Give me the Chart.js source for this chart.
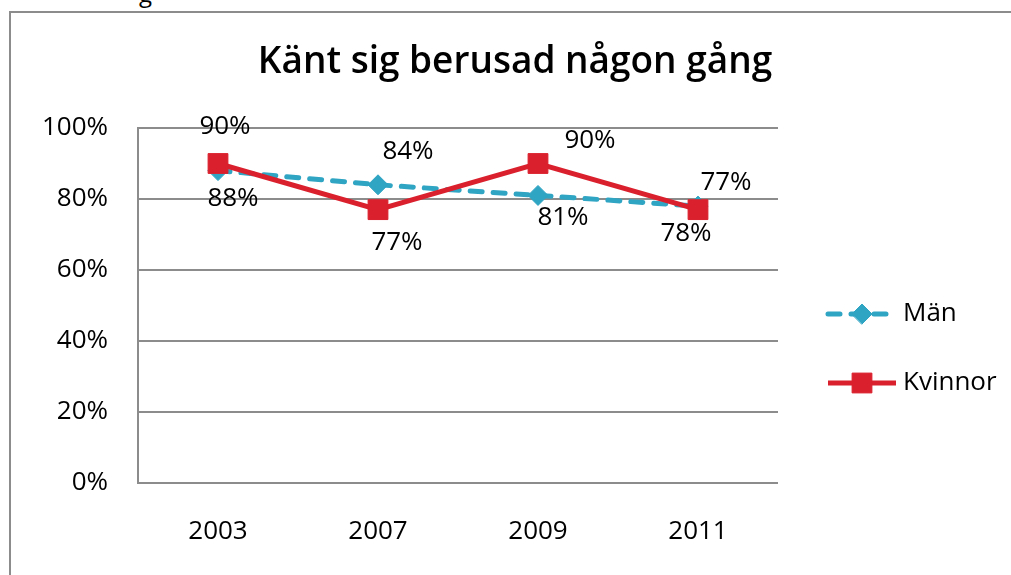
<!DOCTYPE html>
<html>
<head>
<meta charset="utf-8">
<script src="https://cdn.jsdelivr.net/npm/chart.js@4/dist/chart.umd.min.js"></script>
<style>
  html, body { margin: 0; padding: 0; background: #fff; }
  #wrap { position: relative; width: 1011px; height: 575px; overflow: hidden; }
  #frame { position: absolute; left: 9px; top: 11px; width: 1100px; height: 700px;
           border: 2px solid #8c8c8c; box-sizing: border-box; }
  #cut { position: absolute; left: 139px; top: -24px; font: 24px "Open Sans", sans-serif; color: #000; }
  #c { position: absolute; left: 0; top: 0; }
</style>
</head>
<body>
<div id="wrap">
  <div id="cut">g</div>
  <div id="frame"></div>
  <canvas id="c" width="1011" height="575"></canvas>
</div>
<script>
  const years = ["2003", "2007", "2009", "2011"];
  const man = [0.88, 0.84, 0.81, 0.78];
  const kvinnor = [0.90, 0.77, 0.90, 0.77];
  const yTicks = [0, 0.2, 0.4, 0.6, 0.8, 1];

  const FONT = '"Open Sans", "Noto Sans", sans-serif';

  // label offsets from each point (dx, dy), per dataset
  const labelOffsets = [
    [[15, 28], [30, -33], [25, 22], [-12, 27]],   // Män
    [[7, -37], [19, 33], [52, -23], [28, -27]]    // Kvinnor
  ];

  const dataLabels = {
    id: 'dataLabels',
    afterDatasetsDraw(chart) {
      const ctx = chart.ctx;
      ctx.save();
      ctx.font = '26px ' + FONT;
      ctx.fillStyle = '#000';
      ctx.textAlign = 'center';
      ctx.textBaseline = 'middle';
      chart.data.datasets.forEach((ds, di) => {
        chart.getDatasetMeta(di).data.forEach((pt, i) => {
          const off = labelOffsets[di][i];
          ctx.fillText(Math.round(ds.data[i] * 100) + '%', pt.x + off[0], pt.y + off[1]);
        });
      });
      ctx.restore();
    }
  };

  const sideLegend = {
    id: 'sideLegend',
    afterDraw(chart) {
      const ctx = chart.ctx;
      const rows = [314, 383];
      ctx.save();
      chart.data.datasets.forEach((ds, di) => {
        const y = rows[di];
        ctx.strokeStyle = ds.borderColor;
        ctx.lineWidth = ds.borderWidth;
        ctx.lineCap = ds.borderCapStyle || 'butt';
        ctx.setLineDash(ds.borderDash || []);
        ctx.beginPath();
        ctx.moveTo(828, y);
        ctx.lineTo(896, y);
        ctx.stroke();
        ctx.setLineDash([]);
        ctx.fillStyle = ds.pointBackgroundColor;
        ctx.strokeStyle = ds.pointBorderColor;
        ctx.lineWidth = ds.pointBorderWidth;
        Chart.helpers.drawPoint(ctx, {
          pointStyle: ds.pointStyle,
          radius: ds.pointRadius,
          borderWidth: ds.pointBorderWidth
        }, 862, y);
        ctx.fillStyle = '#000';
        ctx.font = '26px ' + FONT;
        ctx.textAlign = 'left';
        ctx.textBaseline = 'middle';
        ctx.fillText(ds.label, 903, y);
      });
      ctx.restore();
    }
  };

  const titleText = {
    id: 'titleText',
    afterDraw(chart) {
      const ctx = chart.ctx;
      ctx.save();
      ctx.font = '600 37px ' + FONT;
      ctx.fillStyle = '#000';
      ctx.textAlign = 'center';
      ctx.textBaseline = 'middle';
      ctx.fillText('Känt sig berusad någon gång', 515, 62);
      ctx.restore();
    }
  };

  new Chart(document.getElementById('c'), {
    type: 'line',
    data: {
      labels: years,
      datasets: [
        {
          label: 'Män',
          data: man,
          borderColor: '#2FA4C3',
          backgroundColor: '#2FA4C3',
          borderWidth: 5,
          borderDash: [12, 11],
          borderCapStyle: 'round',
          pointStyle: 'rectRot',
          pointRadius: 10,
          pointBackgroundColor: '#2FA4C3',
          pointBorderColor: '#2FA4C3',
          pointBorderWidth: 1,
          tension: 0,
          order: 1
        },
        {
          label: 'Kvinnor',
          data: kvinnor,
          borderColor: '#DA202D',
          backgroundColor: '#DA202D',
          borderWidth: 5,
          pointStyle: 'rect',
          pointRadius: 14,
          pointBackgroundColor: '#DA202D',
          pointBorderColor: '#DA202D',
          pointBorderWidth: 1,
          tension: 0,
          order: 0
        }
      ]
    },
    options: {
      responsive: false,
      animation: false,
      events: [],
      layout: { padding: { left: 0, top: 128, right: 233, bottom: 0 } },
      plugins: {
        legend: { display: false },
        title: { display: false },
        tooltip: { enabled: false }
      },
      scales: {
        x: {
          offset: true,
          grid: { display: false, drawTicks: false },
          border: { display: false },
          ticks: { color: '#000', font: { family: FONT, size: 26 }, padding: 33 },
          afterFit(s) { s.height = 575 - 483; }
        },
        y: {
          min: 0,
          max: 1,
          afterBuildTicks(s) { s.ticks = yTicks.map(v => ({ value: v })); },
          grid: { color: '#8c8c8c', lineWidth: 2, drawTicks: false },
          border: { display: true, color: '#8c8c8c', width: 2 },
          ticks: {
            color: '#000',
            font: { family: FONT, size: 26 },
            padding: 30,
            callback: v => Math.round(v * 100) + '%'
          },
          afterFit(s) { s.width = 138; }
        }
      }
    },
    plugins: [dataLabels, sideLegend, titleText]
  });
</script>
</body>
</html>
